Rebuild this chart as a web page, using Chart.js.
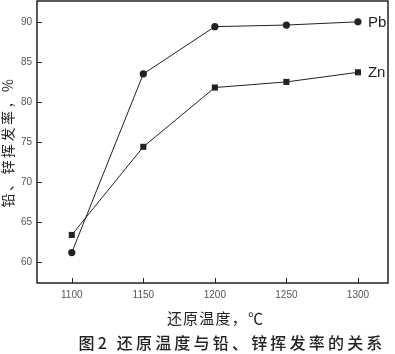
<!DOCTYPE html>
<html>
<head>
<meta charset="utf-8">
<script src="https://cdn.jsdelivr.net/npm/chart.js@4"></script>
<style>
  html,body{margin:0;padding:0;background:#fff}
  #wrap{width:395px;height:354px}
</style>
</head>
<body>
<div id="wrap"><canvas id="c" width="395" height="354"></canvas></div>
<script>
// reduction temperature vs. Pb / Zn volatilization
const temps = [1100, 1150, 1200, 1250, 1300];
const pbRate = [61.2, 83.5, 89.4, 89.6, 90.0];
const znRate = [63.4, 74.4, 81.8, 82.5, 83.7];
const seriesNames = ['Pb', 'Zn'];
const xTicks = [1100, 1150, 1200, 1250, 1300];
const yTicks = [60, 65, 70, 75, 80, 85, 90];
const xTitle = '还原温度，℃';
const yTitle = '铅、锌挥发率，%';
const caption = '图2 还原温度与铅、锌挥发率的关系';

const ink = '#222';
const pts = arr => arr.map((v,i)=>({x:temps[i], y:v}));

// box, inward ticks, labels and captions
const decor = {
  id:'decor',
  afterDraw(chart){
    const {ctx, chartArea:a, scales:{x, y}} = chart;
    ctx.save();
    ctx.strokeStyle = ink; ctx.lineWidth = 1.5;
    ctx.strokeRect(a.left, a.top, a.right-a.left, a.bottom-a.top);
    ctx.lineWidth = 1;
    ctx.beginPath();
    xTicks.forEach(v=>{ const px = Math.round(x.getPixelForValue(v))+0.5; ctx.moveTo(px, a.bottom); ctx.lineTo(px, a.bottom-5); });
    yTicks.forEach(v=>{ const py = Math.round(y.getPixelForValue(v))+0.5; ctx.moveTo(a.left, py); ctx.lineTo(a.left+5, py); });
    ctx.stroke();

    // series labels at the last point
    ctx.fillStyle = ink;
    ctx.font = '15px "Liberation Sans", Arial, sans-serif';
    ctx.textAlign = 'left'; ctx.textBaseline = 'middle';
    const last = temps.length-1;
    ctx.fillText(seriesNames[0], x.getPixelForValue(temps[last])+10, y.getPixelForValue(pbRate[last])+1);
    ctx.fillText(seriesNames[1], x.getPixelForValue(temps[last])+10, y.getPixelForValue(znRate[last])+1);

    // axis titles
    ctx.textAlign = 'center';
    ctx.font = '15px "Noto Sans CJK SC", sans-serif';
    ctx.letterSpacing = '1.2px';
    ctx.fillText(xTitle, (a.left+a.right)/2+3, 318);
    ctx.save();
    ctx.translate(8, (a.top+a.bottom)/2);
    ctx.rotate(-Math.PI/2);
    ctx.font = '14px "Noto Sans CJK SC", sans-serif';
    ctx.letterSpacing = '2.5px';
    ctx.fillText(yTitle, 0, 0);
    ctx.restore();

    // figure caption
    ctx.font = '500 16px "Noto Sans CJK SC", sans-serif';
    ctx.letterSpacing = '3.2px';
    ctx.fillText(caption, 232, 343);
    ctx.restore();
  }
};

new Chart(document.getElementById('c'), {
  type:'line',
  data:{
    datasets:[
      {label:seriesNames[0], data:pts(pbRate), borderColor:ink, borderWidth:1, backgroundColor:ink,
       pointStyle:'circle', pointRadius:3.6, pointBorderWidth:0},
      {label:seriesNames[1], data:pts(znRate), borderColor:ink, borderWidth:1, backgroundColor:ink,
       pointStyle:'rect', pointRadius:4.3, pointBorderWidth:0}
    ]
  },
  options:{
    responsive:false, animation:false,
    layout:{autoPadding:false, padding:{top:1, right:7, left:0, bottom:0}},
    plugins:{legend:{display:false}, tooltip:{enabled:false}},
    elements:{line:{tension:0}},
    scales:{
      x:{
        type:'linear', min:1075.7, max:1321,
        afterBuildTicks: s=>{ s.ticks = xTicks.map(v=>({value:v})); },
        afterFit: s=>{ s.height = 71; s.paddingLeft = 0; s.paddingRight = 0; },
        grid:{display:false, drawTicks:false},
        border:{display:false},
        ticks:{padding:6, color:'#555', callback:v=>String(v), font:{size:10, family:'"Liberation Sans", Arial, sans-serif'}}
      },
      y:{
        min:57.4, max:92.6,
        afterBuildTicks: s=>{ s.ticks = yTicks.map(v=>({value:v})); },
        afterFit: s=>{ s.width = 37; s.paddingTop = 0; s.paddingBottom = 0; },
        grid:{display:false, drawTicks:false},
        border:{display:false},
        ticks:{padding:5, color:'#555', font:{size:10, family:'"Liberation Sans", Arial, sans-serif'}}
      }
    }
  },
  plugins:[decor]
});
</script>
</body>
</html>
